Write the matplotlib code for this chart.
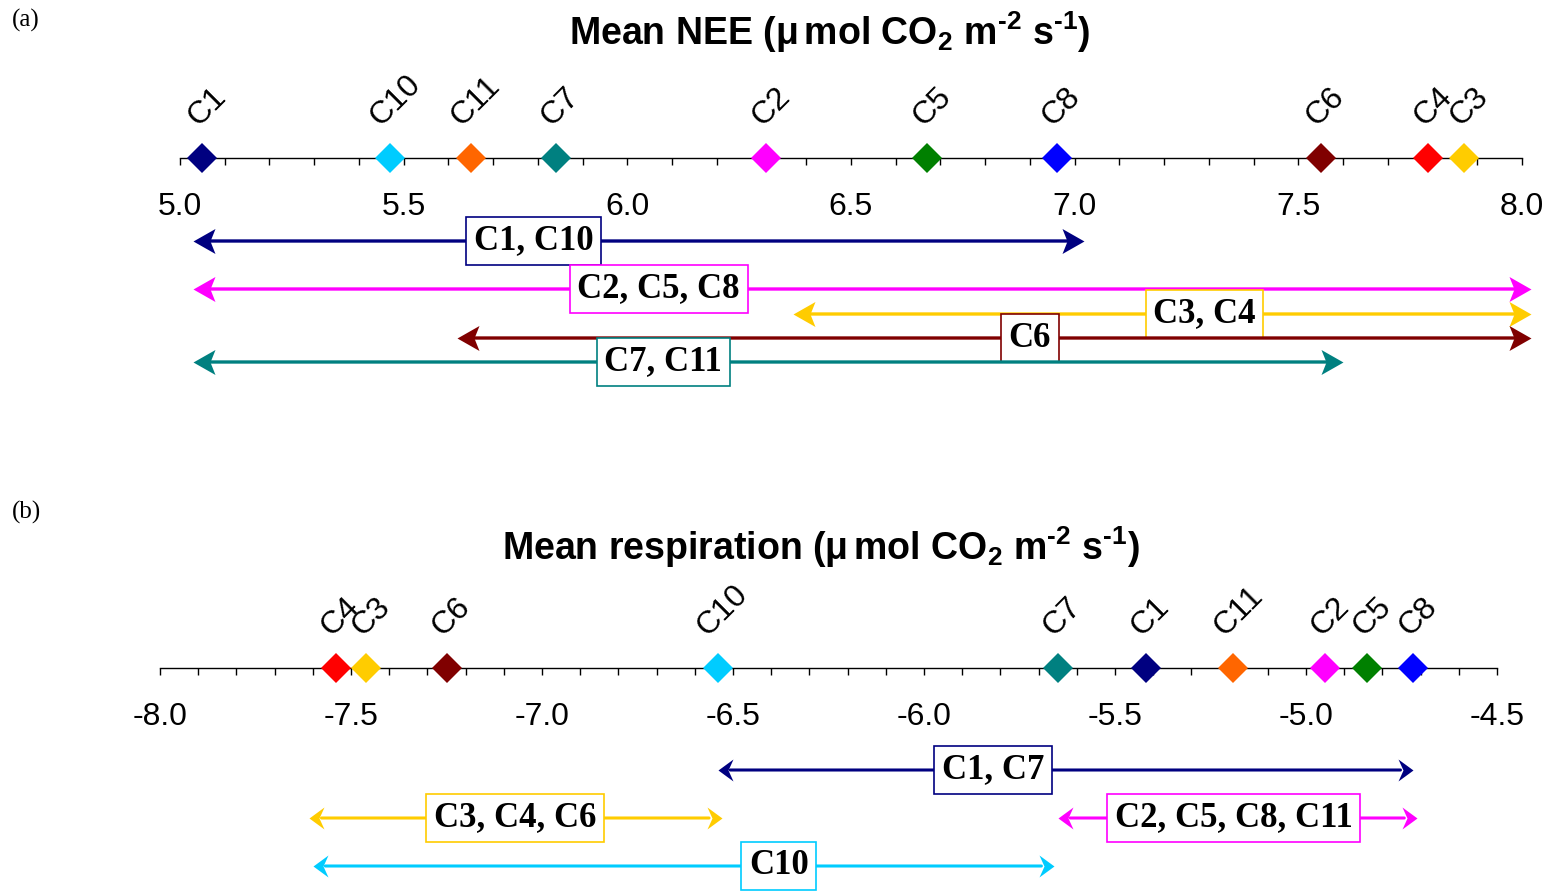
import matplotlib
matplotlib.use('Agg')
import matplotlib.pyplot as plt
from matplotlib.path import Path
from matplotlib.ticker import MultipleLocator, FormatStrFormatter

plt.rcParams['font.family'] = ['Liberation Sans', 'DejaVu Sans']
plt.rcParams['axes.unicode_minus'] = False
plt.rcParams['mathtext.fontset'] = 'custom'
plt.rcParams['mathtext.rm'] = 'Liberation Sans:bold'
plt.rcParams['mathtext.it'] = 'Liberation Sans:bold'
plt.rcParams['mathtext.bf'] = 'Liberation Sans:bold'

# colour of each chamber
colors = {
    'C1': '#000080', 'C2': '#FF00FF', 'C3': '#FFCC00', 'C4': '#FF0000',
    'C5': '#008000', 'C6': '#800000', 'C7': '#008080', 'C8': '#0000FF',
    'C10': '#00CCFF', 'C11': '#FF6600',
}

# (a) mean NEE per chamber
nee_names = ['C1', 'C10', 'C11', 'C7', 'C2', 'C5', 'C8', 'C6', 'C4', 'C3']
nee_vals = [5.05, 5.47, 5.65, 5.84, 6.31, 6.67, 6.96, 7.55, 7.79, 7.87]

# (a) groups not significantly different
nee_groups = ['C1, C10', 'C2, C5, C8', 'C3, C4', 'C6', 'C7, C11']
nee_group_colors = ['C1', 'C2', 'C3', 'C6', 'C7']
nee_lo = [5.03, 5.03, 6.37, 5.62, 5.03]
nee_hi = [7.02, 8.02, 8.02, 8.02, 7.60]
nee_label_x = [5.79, 6.07, 7.29, 6.90, 6.08]

# (b) mean respiration per chamber
resp_names = ['C4', 'C3', 'C6', 'C10', 'C7', 'C1', 'C11', 'C2', 'C5', 'C8']
resp_vals = [-7.54, -7.46, -7.25, -6.54, -5.65, -5.42, -5.19, -4.95, -4.84, -4.72]

# (b) groups
resp_groups = ['C1, C7', 'C3, C4, C6', 'C2, C5, C8, C11', 'C10']
resp_group_colors = ['C1', 'C3', 'C2', 'C10']
resp_lo = [-6.54, -7.61, -5.65, -7.60]
resp_hi = [-4.72, -6.53, -4.71, -5.66]
resp_label_x = [-5.82, -7.07, -5.19, -6.38]

W, H = 1561, 891
fig = plt.figure(figsize=(W / 100, H / 100), dpi=100)


def head(length, height, notch, left):
    # notched arrow head with its tip at the origin
    s = 1 if left else -1
    verts = [(0, 0), (s * length, height / 2), (s * (length - notch), 0),
             (s * length, -height / 2), (0, 0)]
    codes = [Path.MOVETO] + [Path.LINETO] * 3 + [Path.CLOSEPOLY]
    size = 2 * max(length, height / 2) * 0.72
    return Path(verts, codes), size


def panel(x0, x1, axis_y, below, xlim, names, vals, groups, gcols, lo, hi,
          label_x, rows, hsize, lw):
    top = 100
    ax = fig.add_axes([x0 / W, 1 - (axis_y + below) / H, (x1 - x0) / W,
                       (top + below) / H])
    ax.set_xlim(*xlim)
    ax.set_ylim(below, -top)
    ax.patch.set_visible(False)
    for s in ['left', 'right', 'top']:
        ax.spines[s].set_visible(False)
    ax.spines['bottom'].set_position(('data', 0))
    ax.spines['bottom'].set_linewidth(1.0)
    ax.set_yticks([])
    ax.xaxis.set_major_locator(MultipleLocator(0.5))
    ax.xaxis.set_minor_locator(MultipleLocator(0.1))
    ax.xaxis.set_major_formatter(FormatStrFormatter('%.1f'))
    ax.tick_params(axis='x', which='both', direction='out', length=5,
                   width=1, pad=19.5, labelsize=23)

    for n, v in zip(names, vals):
        ax.plot(v, 0, 'D', color=colors[n], ms=15.5, mew=0, zorder=6,
                clip_on=False)
        ax.annotate(n, (v, 0), xytext=(3.5, 19), textcoords='offset points',
                    rotation=45, ha='center', va='bottom', fontsize=23)

    lh, rh = head(*hsize, True), head(*hsize, False)
    for i, (g, gc, a, b, lx, r) in enumerate(zip(groups, gcols, lo, hi,
                                                 label_x, rows)):
        c = colors[gc]
        z = 7 + 3 * i
        ax.annotate('', xy=(b, r), xytext=(a, r), annotation_clip=False,
                    arrowprops=dict(arrowstyle='-', color=c, lw=lw,
                                    shrinkA=9, shrinkB=9), zorder=z)
        ax.plot(a, r, marker=lh[0], ms=lh[1], color=c, mew=0, zorder=z,
                clip_on=False)
        ax.plot(b, r, marker=rh[0], ms=rh[1], color=c, mew=0, zorder=z,
                clip_on=False)
        ax.text(lx, r, g, ha='center', va='center', fontsize=25,
                family='Liberation Serif', fontweight='bold', zorder=z + 1,
                bbox=dict(boxstyle='square,pad=0.22', fc='white', ec=c,
                          lw=1.2))
    return ax


panel(180, 1522, 158, 260, (5.0, 8.0), nee_names, nee_vals, nee_groups,
      nee_group_colors, nee_lo, nee_hi, nee_label_x, [83, 131, 156, 180, 204],
      (22, 25, 5), 2.4)
panel(160, 1497, 668, 223, (-8.0, -4.5), resp_names, resp_vals, resp_groups,
      resp_group_colors, resp_lo, resp_hi, resp_label_x, [102, 150, 150, 198],
      (15, 22, 5), 2.2)

unit = r'($\mu\,$mol CO$_2$ m$^{\text{-}2}$ s$^{\text{-}1}$)'
fig.text(830 / W, 1 - 32 / H, 'Mean NEE ' + unit,
         ha='center', va='center', fontsize=27, fontweight='bold')
fig.text(821 / W, 1 - 547 / H, 'Mean respiration ' + unit,
         ha='center', va='center', fontsize=27, fontweight='bold')
fig.text(12 / W, 1 - 20 / H, '(a)', family='Liberation Serif', fontsize=18,
         va='center')
fig.text(12 / W, 1 - 512 / H, '(b)', family='Liberation Serif', fontsize=18,
         va='center')

fig.savefig('out.png', dpi=100)
